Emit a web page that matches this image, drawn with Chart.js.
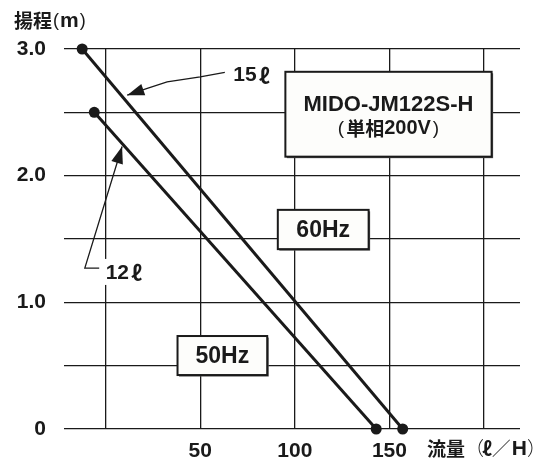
<!DOCTYPE html>
<html>
<head>
<meta charset="utf-8">
<script src="https://cdn.jsdelivr.net/npm/chart.js@4"></script>
<style>
  html, body { margin: 0; padding: 0; background: #fff; }
  #wrap { width: 548px; height: 463px; position: relative; }
</style>
</head>
<body>
<div id="wrap"><canvas id="headChart"></canvas></div>
<script>
// pump curves (flow l/H, head m)
const flow60 = [-12.4, 157];
const head60 = [3.0, 0];
const flow50 = [-6, 143];
const head50 = [2.5, 0];

const xTicks = [0, 50, 100, 150, 200];
const xTickLabels = ["", "50", "100", "150", ""];
const yTicks = [0, 0.5, 1, 1.5, 2, 2.5, 3];
const yTickLabels = ["0", "", "1.0", "", "2.0", "", "3.0"];

const INK = "#1a1a1a";
const FONT = "'Liberation Sans', 'Noto Sans CJK JP', sans-serif";
const CJK = "'Noto Sans CJK JP', sans-serif";
const ELL = "'Noto Sans CJK JP', 'DejaVu Sans', sans-serif";

function toPoints(xs, ys) {
  return xs.map((x, i) => ({ x: x, y: ys[i] }));
}

function px(chart, x, y) {
  return [chart.scales.x.getPixelForValue(x), chart.scales.y.getPixelForValue(y)];
}

// draw a run of text pieces [text, font, gapAfter], left or centred
function drawRun(ctx, x, y, pieces, centred) {
  let total = 0;
  pieces.forEach(p => {
    ctx.font = p[1];
    total += ctx.measureText(p[0]).width + (p[2] || 0);
  });
  let cx = centred ? x - total / 2 : x;
  ctx.textAlign = "left";
  pieces.forEach(p => {
    ctx.font = p[1];
    ctx.fillText(p[0], cx, y);
    cx += ctx.measureText(p[0]).width + (p[2] || 0);
  });
}

function drawBox(ctx, x1, y1, x2, y2) {
  ctx.save();
  ctx.fillStyle = "#555";
  ctx.fillRect(x1 + 1.5, y1 + 1.5, x2 - x1, y2 - y1);
  ctx.fillStyle = "#fdfdfb";
  ctx.fillRect(x1, y1, x2 - x1, y2 - y1);
  ctx.strokeStyle = INK;
  ctx.lineWidth = 2;
  ctx.strokeRect(x1, y1, x2 - x1, y2 - y1);
  ctx.restore();
}

function drawArrow(ctx, pts, headLen, headHalf) {
  ctx.save();
  ctx.strokeStyle = INK;
  ctx.fillStyle = INK;
  ctx.lineWidth = 1.3;
  ctx.beginPath();
  ctx.moveTo(pts[0][0], pts[0][1]);
  for (let i = 1; i < pts.length; i++) ctx.lineTo(pts[i][0], pts[i][1]);
  ctx.stroke();
  const tip = pts[pts.length - 1];
  const prev = pts[pts.length - 2];
  const a = Math.atan2(tip[1] - prev[1], tip[0] - prev[0]);
  const bx = tip[0] - headLen * Math.cos(a);
  const by = tip[1] - headLen * Math.sin(a);
  ctx.beginPath();
  ctx.moveTo(tip[0], tip[1]);
  ctx.lineTo(bx + headHalf * Math.sin(a), by - headHalf * Math.cos(a));
  ctx.lineTo(bx - headHalf * Math.sin(a), by + headHalf * Math.cos(a));
  ctx.closePath();
  ctx.fill();
  ctx.restore();
}

const labelsPlugin = {
  id: "pumpLabels",
  beforeDatasetsDraw(chart) {
    const ctx = chart.ctx;
    ctx.save();
    ctx.fillStyle = INK;
    ctx.textAlign = "center";
    ctx.textBaseline = "middle";

    // model box
    let a = px(chart, 95, 2.82), b = px(chart, 204, 2.15);
    drawBox(ctx, a[0], a[1], b[0], b[1]);
    ctx.fillStyle = INK;
    ctx.font = "bold 22px " + FONT;
    ctx.fillText("MIDO-JM122S-H", (a[0] + b[0]) / 2, a[1] + 33, 180);
    drawRun(ctx, (a[0] + b[0]) / 2, a[1] + 57, [
      ["(", "300 19px " + FONT, 2],
      ["単相", "bold 19px " + CJK, 0],
      ["200V", "bold 20px " + FONT, 2],
      [")", "300 19px " + FONT, 0],
    ], true);

    // 60Hz box
    a = px(chart, 91, 1.73); b = px(chart, 139, 1.42);
    drawBox(ctx, a[0], a[1], b[0], b[1]);
    ctx.fillStyle = INK;
    ctx.textAlign = "center";
    ctx.font = "bold 23px " + FONT;
    ctx.fillText("60Hz", (a[0] + b[0]) / 2, (a[1] + b[1]) / 2 + 1);

    // 50Hz box
    a = px(chart, 38, 0.734); b = px(chart, 85.4, 0.426);
    drawBox(ctx, a[0], a[1], b[0], b[1]);
    ctx.fillStyle = INK;
    ctx.textAlign = "center";
    ctx.font = "bold 23px " + FONT;
    ctx.fillText("50Hz", (a[0] + b[0]) / 2, (a[1] + b[1]) / 2 + 1);

    // 12 l label on white ground
    a = px(chart, 0, 1.24);
    ctx.fillStyle = "#fff";
    ctx.fillRect(a[0] - 2, a[1] - 13, 44, 26);
    ctx.fillStyle = INK;
    drawRun(ctx, a[0], a[1] + 1, [
      ["12", "bold 21px " + FONT, 2],
      ["ℓ", "bold 21px " + ELL, 0],
    ], false);

    a = px(chart, 67.5, 2.79);
    drawRun(ctx, a[0], a[1], [
      ["15", "bold 21px " + FONT, 2],
      ["ℓ", "bold 21px " + ELL, 0],
    ], false);

    // axis titles
    drawRun(ctx, 14, 21, [
      ["揚程", "bold 19px " + CJK, 1],
      ["(", "300 18px " + FONT, 1],
      ["m", "bold 21px " + FONT, 1],
      [")", "300 18px " + FONT, 0],
    ], false);
    drawRun(ctx, 427, 449, [
      ["流量", "bold 19px " + CJK, 0],
      ["（", "300 19px " + CJK, -2],
      ["ℓ", "bold 19px " + ELL, 0],
      ["／", "300 19px " + CJK, 1],
      ["H", "bold 21px " + FONT, 0],
      ["）", "300 19px " + CJK, 0],
    ], false);
    ctx.restore();
  },
  afterDatasetsDraw(chart) {
    const ctx = chart.ctx;
    drawArrow(ctx, [
      px(chart, 63, 2.815), px(chart, 50, 2.78), px(chart, 32.5, 2.74),
      px(chart, 22, 2.69), px(chart, 11.4, 2.635)
    ], 17, 6);
    drawArrow(ctx, [
      px(chart, -3.4, 1.27), px(chart, -11, 1.27), px(chart, 8.7, 2.23)
    ], 17, 6);
  }
};

const ctx = document.getElementById("headChart").getContext("2d");
new Chart(ctx, {
  type: "scatter",
  data: {
    datasets: [
      {
        label: "60Hz",
        data: toPoints(flow60, head60),
        showLine: true,
        borderColor: INK,
        borderWidth: 3,
        pointRadius: 5.5,
        pointBackgroundColor: INK,
        pointBorderWidth: 0,
        clip: false,
      },
      {
        label: "50Hz",
        data: toPoints(flow50, head50),
        showLine: true,
        borderColor: INK,
        borderWidth: 3,
        pointRadius: 5.5,
        pointBackgroundColor: INK,
        pointBorderWidth: 0,
        clip: false,
      },
    ],
  },
  options: {
    responsive: true,
    maintainAspectRatio: false,
    animation: false,
    layout: { padding: { top: 49, right: 28, left: 0, bottom: 0 } },
    plugins: {
      legend: { display: false },
      tooltip: { enabled: false },
    },
    scales: {
      x: {
        type: "linear",
        min: -22,
        max: 219,
        afterBuildTicks: (scale) => { scale.ticks = xTicks.map(v => ({ value: v })); },
        afterFit: (scale) => { scale.height = 34; },
        ticks: {
          padding: 10,
          maxRotation: 0,
          color: INK,
          font: { family: FONT, size: 21, weight: "bold" },
          callback: (value) => xTickLabels[xTicks.indexOf(value)],
        },
        grid: { color: INK, lineWidth: 1.3, drawTicks: false },
        border: { display: false },
      },
      y: {
        type: "linear",
        min: 0,
        max: 3,
        afterBuildTicks: (scale) => { scale.ticks = yTicks.map(v => ({ value: v })); },
        afterFit: (scale) => { scale.width = 64; },
        ticks: {
          padding: 18,
          color: INK,
          font: { family: FONT, size: 21, weight: "bold" },
          callback: (value) => yTickLabels[yTicks.indexOf(value)],
        },
        grid: { color: INK, lineWidth: 1.3, drawTicks: false },
        border: { display: false },
      },
    },
  },
  plugins: [labelsPlugin],
});
</script>
</body>
</html>
